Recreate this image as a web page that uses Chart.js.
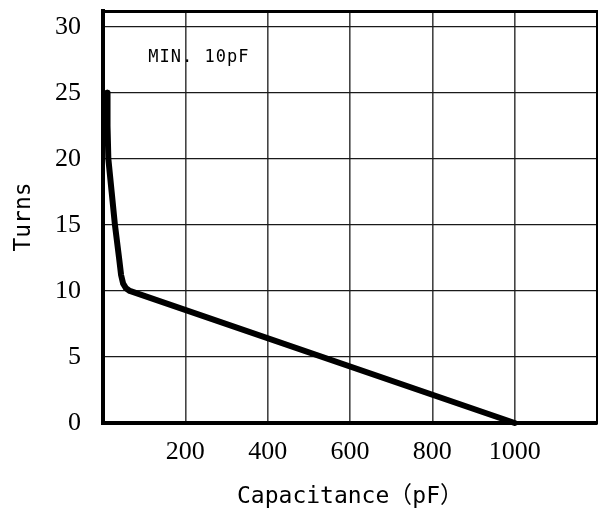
<!DOCTYPE html>
<html><head><meta charset="utf-8">
<script src="https://cdn.jsdelivr.net/npm/chart.js@4/dist/chart.umd.min.js"></script>
<style>
@font-face{font-family:"CJKParens";src:local("Noto Sans CJK JP"),local("Noto Sans CJK JP Regular"),local("NotoSansCJKjp-Regular");unicode-range:U+3000-30FF,U+FF00-FFEF;}
html,body{margin:0;padding:0;background:#fff}canvas{display:block}
</style>
</head><body>
<canvas id="c" width="598" height="511"></canvas>
<script>
const capacitancePF = [10, 11, 13, 21, 29, 39, 44, 49, 56, 65, 1000];
const turns = [25, 22.5, 20, 17.5, 15, 12.5, 11.2, 10.55, 10.2, 10, 0];
const xTickLabels = [200, 400, 600, 800, 1000];
const xRange = [0, 1200];
const yRange = [0, 31.2];
const xTitle = 'Capacitance（pF）';
const yTitle = 'Turns';
const noteText = 'MIN. 10pF';
const notePos = [233, 27.7];

const points = capacitancePF.map((c, i) => ({x: c, y: turns[i]}));

const notePlugin = {
  id: 'note',
  afterDatasetsDraw(chart) {
    const {ctx, scales: {x, y}} = chart;
    ctx.save();
    ctx.font = '17px "DejaVu Sans Mono"';
    ctx.letterSpacing = '1px';
    ctx.fillStyle = '#000';
    ctx.textAlign = 'center';
    ctx.textBaseline = 'middle';
    ctx.fillText(noteText, x.getPixelForValue(notePos[0]), y.getPixelForValue(notePos[1]));
    ctx.restore();
  }
};

const tickFont = {family: '"Liberation Serif", serif', size: 26};
const titleFont = {family: '"CJKParens", "DejaVu Sans Mono", monospace', size: 23};

new Chart(document.getElementById('c'), {
  type: 'line',
  data: {
    datasets: [{
      data: points,
      borderColor: '#000',
      borderWidth: 6,
      pointRadius: 0,
      tension: 0,
      borderJoinStyle: 'round',
      borderCapStyle: 'round',
      clip: false,
      fill: false
    }]
  },
  options: {
    responsive: false,
    animation: false,
    layout: {padding: {top: 11, right: 1, left: 0, bottom: 0}},
    plugins: {legend: {display: false}, tooltip: {enabled: false}},
    scales: {
      x: {
        type: 'linear', position: 'bottom',
        min: xRange[0], max: xRange[1],
        afterFit(s) { s.height = 88; s.paddingLeft = 0; s.paddingRight = 0; },
        ticks: {
          stepSize: 200, color: '#000', font: tickFont, padding: 14, maxRotation: 0,
          callback: v => xTickLabels.includes(v) ? String(v) : ''
        },
        grid: {color: '#444', lineWidth: 1.6, drawTicks: false},
        border: {display: true, color: '#000', width: 4},
        title: {display: true, text: xTitle, color: '#000', font: titleFont, padding: {top: 0, bottom: 0}}
      },
      y: {
        type: 'linear', position: 'left',
        min: yRange[0], max: yRange[1],
        afterFit(s) { s.width = 103; s.paddingTop = 0; s.paddingBottom = 0; },
        ticks: {stepSize: 5, includeBounds: false, color: '#000', font: tickFont, padding: 22},
        grid: {color: '#1a1a1a', lineWidth: 1.3, drawTicks: false},
        border: {display: true, color: '#000', width: 4},
        title: {display: true, text: yTitle, color: '#000', font: titleFont, padding: {top: 10, bottom: 0}}
      },
      x2: {
        type: 'linear', position: 'top',
        afterFit(s) { s.height = 0; s.paddingLeft = 0; s.paddingRight = 0; },
        ticks: {display: false},
        grid: {display: false, drawTicks: false},
        border: {display: true, color: '#000', width: 3}
      },
      y2: {
        type: 'linear', position: 'right',
        afterFit(s) { s.width = 0; s.paddingTop = 0; s.paddingBottom = 0; },
        ticks: {display: false},
        grid: {display: false, drawTicks: false},
        border: {display: true, color: '#000', width: 3}
      }
    }
  },
  plugins: [notePlugin]
});
</script>
</body></html>
